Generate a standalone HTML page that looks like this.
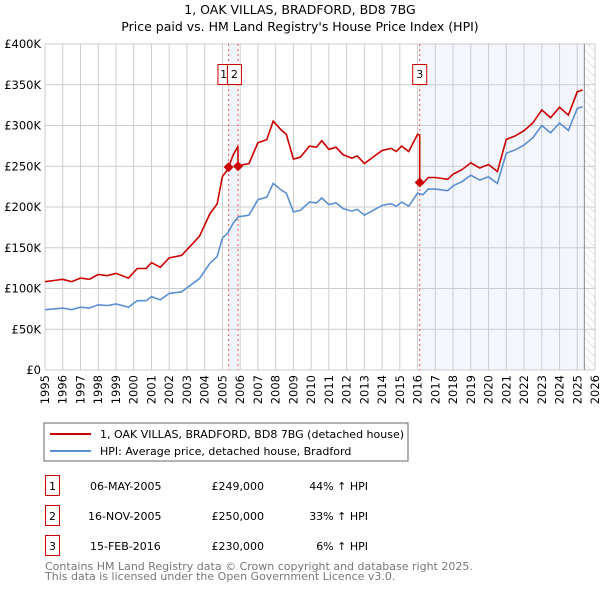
<!DOCTYPE html>
<html><head><meta charset="utf-8"><style>
body{margin:0;background:#fff;font-family:"DejaVu Sans","Liberation Sans",sans-serif}
svg text{font-family:"DejaVu Sans","Liberation Sans",sans-serif}
</style></head><body>
<svg id="c" width="600" height="590" xmlns="http://www.w3.org/2000/svg">
<defs><pattern id="hatch" width="6" height="6" patternUnits="userSpaceOnUse" patternTransform="rotate(-45)"><line x1="0" y1="0" x2="0" y2="6" stroke="#ccc" stroke-width="1"/></pattern></defs>
<text x="300" y="14" text-anchor="middle" font-size="12.5">1, OAK VILLAS, BRADFORD, BD8 7BG</text>
<text x="300" y="31" text-anchor="middle" font-size="12.5">Price paid vs. HM Land Registry's House Price Index (HPI)</text>
<g id="plot"></g>
<rect x="44" y="423" width="364" height="38" fill="#fff" stroke="#666"/>
<line x1="50" y1="434" x2="91" y2="434" stroke="#cc0000" stroke-width="2"/>
<text x="100" y="438" font-size="11">1, OAK VILLAS, BRADFORD, BD8 7BG (detached house)</text>
<line x1="50" y1="451" x2="91" y2="451" stroke="#5b8fd0" stroke-width="2"/>
<text x="100" y="455" font-size="11">HPI: Average price, detached house, Bradford</text>
<g font-size="11">
<rect x="45.5" y="475.5" width="14" height="20" fill="none" stroke="#cc0000"/><text x="52.5" y="490" text-anchor="middle">1</text>
<text x="90" y="490">06-MAY-2005</text><text x="264" y="490" text-anchor="end">£249,000</text><text x="368" y="490" text-anchor="end">44% ↑ HPI</text>
<rect x="45.5" y="505.5" width="14" height="20" fill="none" stroke="#cc0000"/><text x="52.5" y="520" text-anchor="middle">2</text>
<text x="88" y="520">16-NOV-2005</text><text x="264" y="520" text-anchor="end">£250,000</text><text x="368" y="520" text-anchor="end">33% ↑ HPI</text>
<rect x="45.5" y="535.5" width="14" height="20" fill="none" stroke="#cc0000"/><text x="52.5" y="550" text-anchor="middle">3</text>
<text x="90" y="550">15-FEB-2016</text><text x="264" y="550" text-anchor="end">£230,000</text><text x="368" y="550" text-anchor="end">6% ↑ HPI</text>
</g>
<text x="45" y="570" font-size="11" fill="#777">Contains HM Land Registry data © Crown copyright and database right 2025.</text>
<text x="45" y="580" font-size="11" fill="#777">This data is licensed under the Open Government Licence v3.0.</text>
</svg>
<script>
const hpiYears=[1995,1995.5,1996,1996.5,1997,1997.5,1998,1998.5,1999,1999.7,2000.2,2000.7,2001,2001.5,2002,2002.7,2003.2,2003.7,2004.3,2004.7,2005,2005.3,2005.6,2005.9,2006.5,2007,2007.5,2007.86,2008.3,2008.6,2009,2009.4,2009.9,2010.3,2010.6,2011,2011.4,2011.8,2012.3,2012.6,2013,2013.5,2014,2014.5,2014.8,2015.1,2015.5,2016,2016.3,2016.6,2017,2017.7,2018,2018.5,2019,2019.5,2020,2020.5,2021,2021.5,2022,2022.5,2023,2023.5,2024,2024.5,2025,2025.3];
const hpiValues=[74,75,76,74,77,76,80,79,81,77,85,85,90,86,94,96,104,112,131,139,162,168,180,188,190,209,212,229,221,217,194,196,206,205,211,203,205,198,195,197,190,196,202,204,201,206,201,217,215,222,222,220,226,231,239,233,237,229,266,270,276,285,300,291,303,294,321,323];
const saleYears=[2005.35,2005.88,2016.12];
const salePrices=[249,250,230];
const saleLabels=["1","2","3"];
const yTicks=[0,50,100,150,200,250,300,350,400];
const yTickLabels=["£0","£50K","£100K","£150K","£200K","£250K","£300K","£350K","£400K"];
const xTicks=[1995,1996,1997,1998,1999,2000,2001,2002,2003,2004,2005,2006,2007,2008,2009,2010,2011,2012,2013,2014,2015,2016,2017,2018,2019,2020,2021,2022,2023,2024,2025,2026];
const dataEnd=2025.4;

const L=45,R=595,T=44,B=370,NS="http://www.w3.org/2000/svg";
const X=y=>L+(y-1995)/31*(R-L), Y=v=>B-v/400*(B-T);
const g=document.getElementById('plot');
function mk(t,a){const e=document.createElementNS(NS,t);for(const k in a)e.setAttribute(k,a[k]);g.appendChild(e);return e;}
function hpiAt(t){for(let i=0;i<hpiYears.length-1;i++){if(t<=hpiYears[i+1]){const f=(t-hpiYears[i])/(hpiYears[i+1]-hpiYears[i]);return hpiValues[i]+f*(hpiValues[i+1]-hpiValues[i]);}}return hpiValues[hpiValues.length-1];}
let e=mk('rect',{x:X(saleYears[0]),y:T,width:X(saleYears[1])-X(saleYears[0]),height:B-T,fill:'#eef3fc'});

e=mk('rect',{x:X(saleYears[2]),y:T,width:X(dataEnd)-X(saleYears[2]),height:B-T,fill:'#f3f6fd'});

e=mk('rect',{x:X(dataEnd),y:T,width:R-X(dataEnd),height:B-T,fill:'url(#hatch)'});

yTicks.forEach((v,i)=>{let l=mk('line',{x1:L,x2:R,y1:Y(v),y2:Y(v),stroke:'#ccc'});

let t=mk('text',{x:L-4,y:Y(v)+4,'text-anchor':'end','font-size':11.5});t.textContent=yTickLabels[i];
});
xTicks.forEach(v=>{let l=mk('line',{x1:X(v),x2:X(v),y1:T,y2:B,stroke:'#ccc'});

const tx=X(v)+4,ty=B+5;
let t=mk('text',{x:tx,y:ty,'text-anchor':'end','font-size':11.5,transform:`rotate(-90 ${tx} ${ty})`});t.textContent=v;
});
e=mk('line',{x1:X(dataEnd),x2:X(dataEnd),y1:T,y2:B,stroke:'#888'});

saleYears.forEach((s,i)=>{let l=mk('line',{x1:X(s),x2:X(s),y1:T,y2:B,stroke:'#ee5555','stroke-dasharray':'2,3'});
});
let pts=hpiYears.map((y,i)=>X(y).toFixed(1)+','+Y(hpiValues[i]).toFixed(1)).join(' ');
e=mk('polyline',{points:pts,fill:'none',stroke:'#5b8fd0','stroke-width':1.6});

let rp=[];
function seg(a,b,k){const f=salePrices[k]/hpiAt(saleYears[k]);const ys=[a,...hpiYears.filter(y=>y>a&&y<b),b];ys.forEach(y=>rp.push(X(y).toFixed(1)+','+Y(hpiAt(y)*f).toFixed(1)));}
seg(1995,saleYears[0],0);seg(saleYears[0],saleYears[1],0);seg(saleYears[1],saleYears[2],1);
rp.push(X(saleYears[2]).toFixed(1)+','+Y(salePrices[2]).toFixed(1));
seg(saleYears[2],dataEnd-0.1,2);
e=mk('polyline',{points:rp.join(' '),fill:'none',stroke:'#cc0000','stroke-width':1.6});

const badgeDx=[-10.7,-10.6,-7],badgeW=[9.5,14,14],labelDx=[-5,-3.6,0];
saleYears.forEach((s,i)=>{const cx=X(s),cy=Y(salePrices[i]);
let d=mk('path',{d:`M${cx-5},${cy}L${cx},${cy-5}L${cx+5},${cy}L${cx},${cy+5}Z`,fill:'#cc0000'});

let r=mk('rect',{x:cx+badgeDx[i],y:64.5,width:badgeW[i],height:20,fill:'#fff',stroke:'#cc0000'});

let t=mk('text',{x:cx+labelDx[i],y:78,'text-anchor':'middle','font-size':11});t.textContent=saleLabels[i];
});
</script>
</body></html>
